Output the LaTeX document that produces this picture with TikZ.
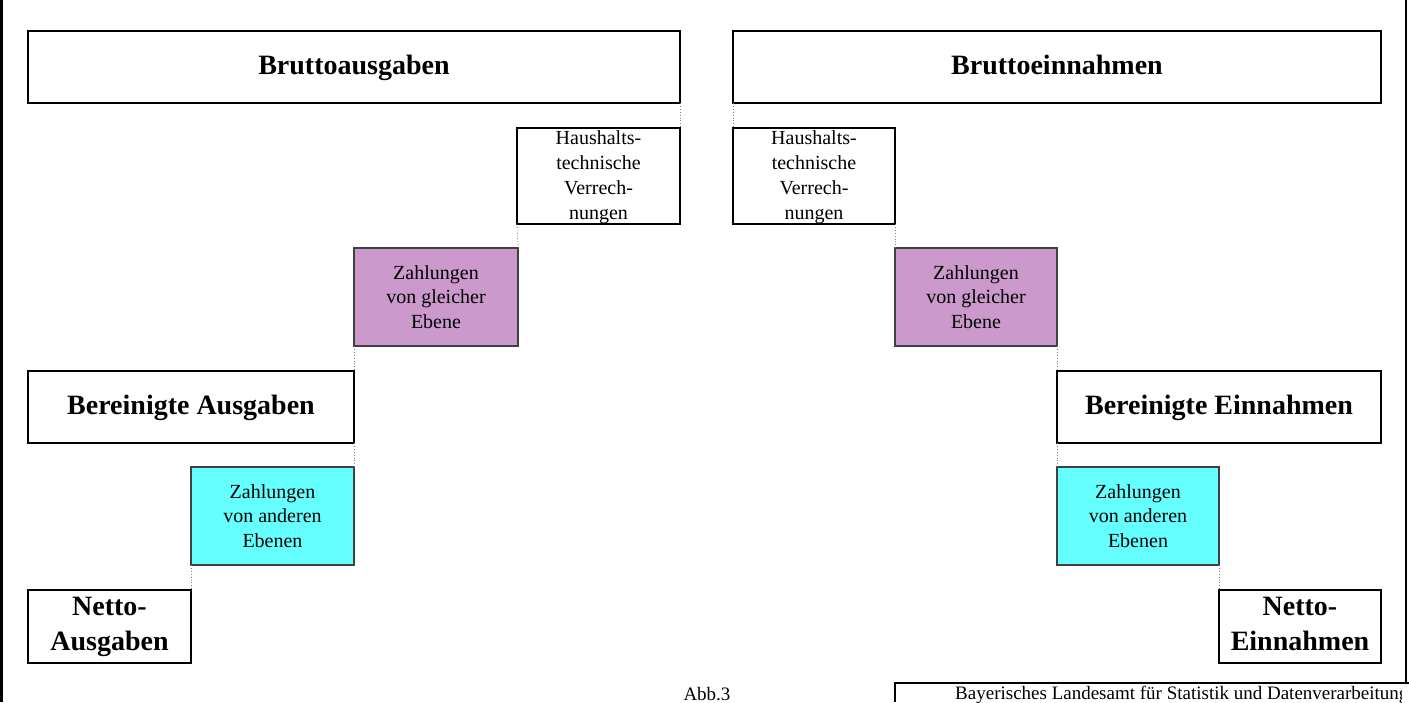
\documentclass[tikz,border=0pt]{standalone}
\usepackage{fontspec}
\setmainfont{Liberation Serif}
\definecolor{plum}{RGB}{204,153,204}
\definecolor{aqua}{RGB}{102,255,255}
\tikzset{
  bigbox/.style={draw=black, line width=2.6pt, rectangle, inner sep=0pt, outer sep=0pt,
    font=\fontsize{28}{35}\selectfont\bfseries, align=center},
  oneline/.style={text height=20pt, text depth=5pt},
  hvbox/.style={draw=black, line width=2pt, rectangle, inner sep=0pt, outer sep=0pt,
    font=\fontsize{20}{25}\selectfont, align=center},
  colbox/.style={draw=black!75, line width=1.3pt, rectangle, inner sep=0pt, outer sep=0pt,
    font=\fontsize{20}{24.5}\selectfont, align=center},
  conn/.style={draw=gray, dotted, line width=0.9pt},
  frameline/.style={draw=black, line width=2.5pt},
  smalltext/.style={font=\fontsize{19}{22}\selectfont, inner sep=0pt}
}
\begin{document}
\begin{tikzpicture}[x=1pt,y=-1pt]
\useasboundingbox (0,0) rectangle (1409,702);
% outer frame
\draw[frameline] (1.25,0) -- (1.25,702);
\draw[frameline] (1406,0) -- (1406,683);
\draw[frameline] (895,702) -- (895,683) -- (1409,683);
% left column
\node[bigbox, oneline, minimum width=652pt, minimum height=72pt] (ba) at (354,67) {Bruttoausgaben};
\node[hvbox, minimum width=163pt, minimum height=96pt] (hl) at (598.5,176) {\rule{0pt}{16pt}Haushalts-\\technische\\Verrech-\\nungen};
\node[colbox, fill=plum, minimum width=164pt, minimum height=98pt] (pl) at (436,297) {Zahlungen\\von gleicher\\Ebene};
\node[bigbox, oneline, minimum width=326pt, minimum height=72pt] (bea) at (191,407) {Bereinigte Ausgaben};
\node[colbox, fill=aqua, minimum width=163pt, minimum height=98pt] (cl) at (272.5,516) {Zahlungen\\von anderen\\Ebenen};
\node[bigbox, minimum width=163pt, minimum height=73pt] (na) at (109.5,626.5) {Netto-\\Ausgaben};
% right column
\node[bigbox, oneline, minimum width=648pt, minimum height=72pt] (be) at (1057,67) {Bruttoeinnahmen};
\node[hvbox, minimum width=162pt, minimum height=96pt] (hr) at (814,176) {\rule{0pt}{16pt}Haushalts-\\technische\\Verrech-\\nungen};
\node[colbox, fill=plum, minimum width=162pt, minimum height=98pt] (pr) at (976,297) {Zahlungen\\von gleicher\\Ebene};
\node[bigbox, oneline, minimum width=324pt, minimum height=72pt] (bee) at (1219,407) {Bereinigte Einnahmen};
\node[colbox, fill=aqua, minimum width=162pt, minimum height=98pt] (cr) at (1138,516) {Zahlungen\\von anderen\\Ebenen};
\node[bigbox, minimum width=162pt, minimum height=73pt] (ne) at (1300,626.5) {Netto-\\Einnahmen\vphantom{g}};
% connectors
\draw[conn] (ba.south east) -- (hl.north east);
\draw[conn] (hl.south west) -- (pl.north east);
\draw[conn] (pl.south west) -- (bea.north east);
\draw[conn] (bea.south east) -- (cl.north east);
\draw[conn] (cl.south west) -- (na.north east);
\draw[conn] (be.south west) -- (hr.north west);
\draw[conn] (hr.south east) -- (pr.north west);
\draw[conn] (pr.south east) -- (bee.north west);
\draw[conn] (bee.south west) -- (cr.north west);
\draw[conn] (cr.south east) -- (ne.north west);
% footer
\node[smalltext, anchor=base] (abb) at (707,700) {Abb.3};
\begin{scope}
\clip (896,684) rectangle (1401,702);
\node[smalltext, anchor=base west] (lfs) at (955,699) {Bayerisches Landesamt für Statistik und Datenverarbeitung};
\end{scope}
\end{tikzpicture}
\end{document}
